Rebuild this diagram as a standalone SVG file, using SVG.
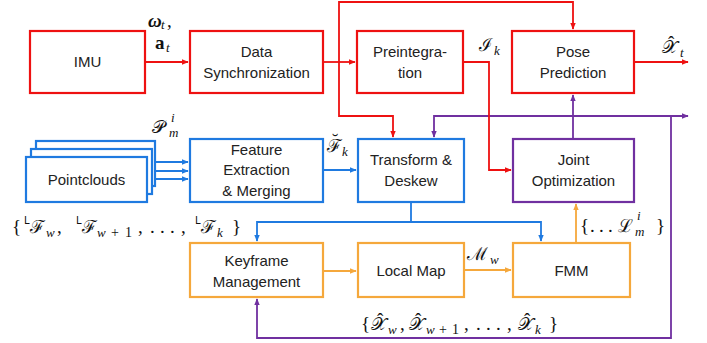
<svg xmlns="http://www.w3.org/2000/svg" width="707" height="343" viewBox="0 0 707 343">
<defs>
<marker id="ar" viewBox="0 0 10 10" refX="9" refY="5" markerWidth="7" markerHeight="7" markerUnits="userSpaceOnUse" orient="auto"><path d="M0,1 L10,5 L0,9 z" fill="#ee1111"/></marker>
<marker id="ab" viewBox="0 0 10 10" refX="9" refY="5" markerWidth="7" markerHeight="7" markerUnits="userSpaceOnUse" orient="auto"><path d="M0,1 L10,5 L0,9 z" fill="#1f7ae0"/></marker>
<marker id="ap" viewBox="0 0 10 10" refX="9" refY="5" markerWidth="7" markerHeight="7" markerUnits="userSpaceOnUse" orient="auto"><path d="M0,1 L10,5 L0,9 z" fill="#7030a0"/></marker>
<marker id="ao" viewBox="0 0 10 10" refX="9" refY="5" markerWidth="7" markerHeight="7" markerUnits="userSpaceOnUse" orient="auto"><path d="M0,1 L10,5 L0,9 z" fill="#f5a83c"/></marker>
</defs>
<style>
rect{fill:#fff;stroke-width:2.2}
.r{stroke:#ee1111}.b{stroke:#1f7ae0}.p{stroke:#7030a0}.o{stroke:#f5a83c}
.t{font-family:"Liberation Sans",Arial,sans-serif;font-size:15px;fill:#222;text-anchor:middle}
.m{font-family:"Liberation Serif","DejaVu Serif",serif;font-size:19px;fill:#111}
.i{font-style:italic}
.s{font-size:13px;font-style:italic}
.u{font-size:14px;font-style:normal}
.sc{font-family:"DejaVu Serif",serif;font-size:18px;font-style:normal}
.L{font-family:"DejaVu Sans",sans-serif;font-size:10px}
.h{font-size:19px;font-style:normal}
#conn path{fill:none;stroke-width:1.8}
</style>
<rect x="0" y="0" width="707" height="343" style="fill:#fff;stroke:none"/>
<g id="conn">
<path class="r" d="M145,62 H188" marker-end="url(#ar)"/>
<path class="r" d="M323,62 H355" marker-end="url(#ar)"/>
<path class="r" d="M339,62 V2 H573 V29" marker-end="url(#ar)"/>
<path class="r" d="M339,62 V116 H393 V137" marker-end="url(#ar)"/>
<path class="r" d="M634,62 H688" marker-end="url(#ar)"/>
<path class="p" d="M573,139 V95" marker-end="url(#ap)"/>
<path class="p" d="M573,116 H434 V137" marker-end="url(#ap)"/>
<path class="p" d="M573,116 H688" marker-end="url(#ap)"/>
<path class="p" d="M671,116 V338 H257 V299" marker-end="url(#ap)"/>
<path class="r" d="M463,62 H489 V170 H511" marker-end="url(#ar)"/>
<path class="b" d="M155,162 H188" marker-end="url(#ab)"/>
<path class="b" d="M152,171 H188" marker-end="url(#ab)"/>
<path class="b" d="M147,179 H188" marker-end="url(#ab)"/>
<path class="b" d="M323,170 H356" marker-end="url(#ab)"/>
<path class="b" d="M411,202 V222 H257 V241" marker-end="url(#ab)"/>
<path class="b" d="M411,222 H541 V241" marker-end="url(#ab)"/>
<path class="o" d="M323,271 H356" marker-end="url(#ao)"/>
<path class="o" d="M464,270 H511" marker-end="url(#ao)"/>
<path class="o" d="M576,243 V204" marker-end="url(#ao)"/>
</g>
<g id="imu"><rect class="r" x="30" y="31" width="115" height="62"/><text class="t" x="87.5" y="67">IMU</text></g>
<g id="datasync"><rect class="r" x="190" y="31" width="133" height="62"/><text class="t" x="256.5" y="57">Data</text><text class="t" x="256.5" y="78">Synchronization</text></g>
<g id="preint"><rect class="r" x="357" y="31" width="106" height="62"/><text class="t" x="410" y="57">Preintegra-</text><text class="t" x="410" y="78">tion</text></g>
<g id="pose"><rect class="r" x="512" y="31" width="122" height="62"/><text class="t" x="573" y="57">Pose</text><text class="t" x="573" y="78">Prediction</text></g>
<g id="pointclouds"><rect class="b" x="36" y="141" width="119" height="45"/><rect class="b" x="31" y="149" width="121" height="45"/><rect class="b" x="26" y="157" width="121" height="45"/><text class="t" x="86.5" y="185">Pointclouds</text></g>
<g id="feature"><rect class="b" x="190" y="139" width="133" height="63"/><text class="t" x="256.5" y="155">Feature</text><text class="t" x="256.5" y="175">Extraction</text><text class="t" x="256.5" y="196">&amp; Merging</text></g>
<g id="transform"><rect class="b" x="358" y="139" width="106" height="63"/><text class="t" x="411" y="165">Transform &amp;</text><text class="t" x="411" y="186">Deskew</text></g>
<g id="joint"><rect class="p" x="513" y="139" width="121" height="63"/><text class="t" x="573.5" y="165">Joint</text><text class="t" x="573.5" y="186">Optimization</text></g>
<g id="keyframe"><rect class="o" x="190" y="243" width="133" height="54"/><text class="t" x="256.5" y="266">Keyframe</text><text class="t" x="256.5" y="287">Management</text></g>
<g id="localmap"><rect class="o" x="358" y="243" width="106" height="54"/><text class="t" x="411" y="276">Local Map</text></g>
<g id="fmm"><rect class="o" x="513" y="243" width="117" height="54"/><text class="t" x="571.5" y="276">FMM</text></g>
<g id="labels">
<text class="m"><tspan class="i" font-weight="bold" x="148" y="27">ω</tspan><tspan class="s" font-size="12" x="161" y="29">t</tspan><tspan x="167" y="27">,</tspan></text>
<text class="m"><tspan font-weight="bold" x="155" y="49">a</tspan><tspan class="s" x="166" y="52">t</tspan></text>
<text class="m"><tspan class="sc" x="152" y="133">𝒫</tspan><tspan class="s" font-size="12" x="171" y="122">i</tspan><tspan class="s" font-size="12" x="169" y="137">m</tspan></text>
<text class="m"><tspan class="sc" x="327" y="152">ℱ</tspan><tspan class="h" x="332" y="147">˘</tspan><tspan class="s" x="342" y="156">k</tspan></text>
<text class="m"><tspan class="sc" x="479" y="51">ℐ</tspan><tspan class="s" x="494" y="55">k</tspan></text>
<text class="m"><tspan class="sc" x="662" y="53">𝒳</tspan><tspan class="h" x="668" y="49">ˆ</tspan><tspan class="s" x="680" y="57">t</tspan></text>
<text class="m"><tspan x="12" y="233">{</tspan><tspan class="L" x="24" y="224">L</tspan><tspan class="sc" x="30" y="233">ℱ</tspan><tspan class="s" x="46" y="237">w</tspan><tspan x="57" y="233">,</tspan><tspan class="L" x="76" y="224">L</tspan><tspan class="sc" x="82" y="233">ℱ</tspan><tspan class="s" x="97" y="237">w</tspan><tspan class="u" x="111" y="237">+</tspan><tspan class="u" x="125" y="237">1</tspan><tspan x="138" y="233">,</tspan><tspan x="150" y="233">.</tspan><tspan x="160" y="233">.</tspan><tspan x="170" y="233">.</tspan><tspan x="181" y="233">,</tspan><tspan class="L" x="195" y="224">L</tspan><tspan class="sc" x="201" y="233">ℱ</tspan><tspan class="s" x="217" y="237">k</tspan><tspan x="232" y="233">}</tspan></text>
<text class="m"><tspan x="580" y="232">{</tspan><tspan x="590" y="232">.</tspan><tspan x="599" y="232">.</tspan><tspan x="608" y="232">.</tspan><tspan class="sc" x="618" y="232">ℒ</tspan><tspan class="s" font-size="12" x="637" y="220">i</tspan><tspan class="s" font-size="12" x="635" y="236">m</tspan><tspan x="656" y="232">}</tspan></text>
<text class="m"><tspan class="sc" x="467" y="260">ℳ</tspan><tspan class="s" x="490" y="264">w</tspan></text>
<text class="m"><tspan x="361" y="330">{</tspan><tspan class="sc" x="371" y="330">𝒳</tspan><tspan class="h" x="377" y="326">ˆ</tspan><tspan class="s" x="388" y="334">w</tspan><tspan x="400" y="330">,</tspan><tspan class="sc" x="409" y="330">𝒳</tspan><tspan class="h" x="415" y="326">ˆ</tspan><tspan class="s" x="426" y="334">w</tspan><tspan class="u" x="439" y="334">+</tspan><tspan class="u" x="452" y="334">1</tspan><tspan x="464" y="330">,</tspan><tspan x="476" y="330">.</tspan><tspan x="486" y="330">.</tspan><tspan x="496" y="330">.</tspan><tspan x="507" y="330">,</tspan><tspan class="sc" x="518" y="330">𝒳</tspan><tspan class="h" x="524" y="326">ˆ</tspan><tspan class="s" x="535" y="334">k</tspan><tspan x="549" y="330">}</tspan></text>
</g>
</svg>
